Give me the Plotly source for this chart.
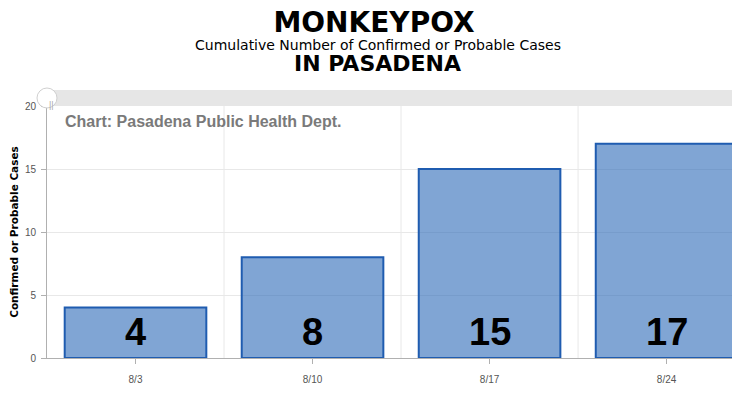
import plotly.graph_objects as go

dates = ["8/3", "8/10", "8/17", "8/24"]
cases = [4, 8, 15, 17]
y_ticks = [0, 5, 10, 15, 20]

W, H = 740, 393
OFF = 8  # page body margin
L, T, B = 47 - OFF, 106 - OFF, H - 358 + OFF
PH = H - T - B

fig = go.Figure()
fig.add_trace(go.Bar(
    x=list(range(len(dates))), y=cases, width=0.8,
    marker=dict(color="rgba(50,110,185,0.62)", line=dict(color="#1f5cb0", width=2)),
    hoverinfo="skip",
))

anns = []
for i, v in enumerate(cases):
    anns.append(dict(x=i, y=0, xref="x", yref="y", yanchor="bottom", yshift=3,
                     text=f"<b>{v}</b>", showarrow=False,
                     font=dict(family="Liberation Sans, Arial", size=38, color="black")))

shapes = []
for b in [0.5, 1.5, 2.5]:
    shapes.append(dict(type="line", xref="x", yref="paper", x0=b, x1=b, y0=0, y1=1,
                       line=dict(color="#e8e8e8", width=1), layer="below"))

# scrollbar band
band_c = 1 + 8 / PH
shapes.append(dict(type="rect", xref="paper", yref="paper", x0=0, x1=1.0, y0=1.0, y1=1 + 16 / PH,
                   fillcolor="#e6e6e6", line=dict(width=0)))
shapes.append(dict(type="circle", xref="paper", yref="paper", xsizemode="pixel", ysizemode="pixel",
                   xanchor=0, yanchor=band_c, x0=-10, x1=10, y0=-10, y1=10,
                   fillcolor="white", line=dict(color="#d0d0d0", width=1)))
anns.append(dict(xref="paper", yref="paper", x=0.0, y=band_c, text="||", showarrow=False,
                 font=dict(size=9, color="#aaaaaa", family="Liberation Sans, Arial")))

anns.append(dict(xref="paper", yref="paper", x=16 / 693, y=1 - 5 / PH, xanchor="left", yanchor="top",
                 text="<b>Chart: Pasadena Public Health Dept.</b>", showarrow=False,
                 font=dict(family="Liberation Sans, Arial", size=16, color="#7a7a7a")))


def top_text(text, ypix, size, family, bold=True):
    anns.append(dict(xref="paper", yref="paper", x=(374 - 47) / 693, xanchor="center",
                     y=(358 - ypix) / PH, yanchor="middle",
                     text=f"<b>{text}</b>" if bold else text, showarrow=False,
                     font=dict(family=family, size=size, color="black")))


top_text("Cumulative Number of Confirmed or Probable Cases", 45, 14, "DejaVu Sans", bold=False)
top_text("IN PASADENA", 64, 22, "DejaVu Sans")

fig.update_layout(
    width=W, height=H,
    margin=dict(l=L, r=0, t=T, b=B),
    paper_bgcolor="white", plot_bgcolor="white",
    showlegend=False,
    title=dict(text="<b>MONKEYPOX</b>", xref="container", yref="container",
               x=(374 - OFF) / W, xanchor="center", y=1 - (22 - OFF) / H, yanchor="middle",
               font=dict(family="DejaVu Sans", size=28, color="black")),
    annotations=anns, shapes=shapes,
    xaxis=dict(tickmode="array", tickvals=list(range(len(dates))), ticktext=dates,
               range=[-0.5, 3.46], showgrid=False, showline=True, linecolor="#b0b0b0",
               ticks="outside", ticklen=5, tickcolor="#b0b0b0", ticklabelstandoff=7,
               tickfont=dict(family="Liberation Sans, Arial", size=10, color="#555555")),
    yaxis=dict(range=[0, 20], tickvals=y_ticks, showgrid=True, gridcolor="#e8e8e8",
               showline=True, linecolor="#b0b0b0", ticks="outside", ticklen=5, tickcolor="#b0b0b0",
               zeroline=False, ticklabelstandoff=3,
               tickfont=dict(family="Liberation Sans, Arial", size=10, color="#555555"),
               title=dict(text="<b>Confirmed or Probable Cases</b>", standoff=10,
                          font=dict(family="DejaVu Sans", size=10.5, color="black"))),
)

fig.write_html("out.html")
